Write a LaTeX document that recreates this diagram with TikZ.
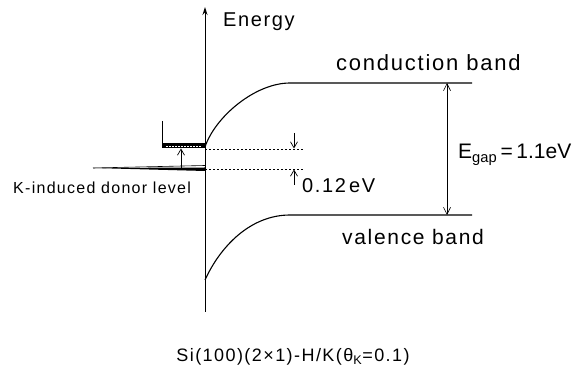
\documentclass[tikz,border=0pt]{standalone}
\usepackage{fontspec}
\setmainfont{Liberation Sans}[LetterSpace=8]
\usetikzlibrary{arrows.meta, positioning}

\begin{document}
\begin{tikzpicture}[
    x=1pt, y=1pt,
    band/.style={line width=1.1pt},
    dim/.style={line width=0.6pt, {Straight Barb[length=7pt, width=7pt]}-{Straight Barb[length=7pt, width=7pt]}},
    tick/.style={line width=0.7pt, -{Straight Barb[length=6pt, width=7pt]}},
    level/.style={line width=0.6pt, dash pattern=on 2pt off 2pt},
    lbl/.style={inner sep=0pt, anchor=base west, font=\fontsize{20}{24}\selectfont}
]
\useasboundingbox (0,0) rectangle (582,372);

% Energy axis
\coordinate (ax0) at (205,60);
\coordinate (ax1) at (205,365);
\draw[line width=0.9pt, -{Stealth[length=8pt, width=5pt]}] (ax0) -- (ax1);
\node[lbl] (energy) at (223,345) {Energy};

% Conduction and valence bands
\coordinate (cbS) at (205,225);
\coordinate (cbK) at (290,289);
\coordinate (cbE) at (472,289);
\coordinate (vbS) at (205,92);
\coordinate (vbK) at (290,157);
\coordinate (vbE) at (472,157);
\draw[band] (cbS) .. controls (215,255) and (255,289) .. (cbK) -- (cbE);
\draw[band] (vbS) .. controls (220,125) and (250,157) .. (vbK) -- (vbE);
\node[lbl, font=\fontsize{22}{26}\selectfont] (cblabel) at (336,301) {conduction band};
\node[lbl, font=\fontsize{21}{25}\selectfont] (vblabel) at (342,127) {valence band};

% Band gap
\coordinate (gapT) at (447,289);
\coordinate (gapB) at (447,157);
\draw[dim] (gapT) -- (gapB);
\node[lbl, font=\fontsize{21}{25}\selectfont\addfontfeature{LetterSpace=0}] (egap) at (458,213) {E\textsubscript{gap}\,=\,1.1eV};

% Surface Fermi level and donor level
\coordinate (sfA) at (205,223);
\coordinate (sfB) at (303,223);
\coordinate (dlA) at (205,203);
\coordinate (dlB) at (303,203);
\draw[level] (sfA) -- (sfB);
\draw[level] (dlA) -- (dlB);
\coordinate (dn0) at (294,239);
\coordinate (dn1) at (294,223.5);
\coordinate (up0) at (294,187);
\coordinate (up1) at (294,202.5);
\draw[tick] (dn0) -- (dn1);
\draw[tick] (up0) -- (up1);
\node[lbl] (shift) at (302,179) {0.12\,eV};

% K-induced donor level
\coordinate (wall) at (162,251);
\draw[line width=0.9pt] (wall) -- (162,226);
\fill (162,223.5) rectangle (205,228.5);
\draw[white, line width=0.8pt, dash pattern=on 1.5pt off 1.5pt] (166,226) -- (202,226);
\coordinate (kA) at (181,203);
\coordinate (kB) at (181,223.5);
\draw[tick] (kA) -- (kB);
\coordinate (tip) at (93,204);
\fill (tip) -- (205,204.5) -- (205,201) -- cycle;
\draw[line width=0.6pt] (tip) -- (205,206.5);
\node[lbl, font=\fontsize{16}{19}\selectfont] (donor) at (13,178) {K-induced donor level};

% Sample
\node[lbl, anchor=base, font=\fontsize{18}{21}\selectfont] (sample) at (293,10) {Si(100)(2×1)-H/K(θ\textsubscript{K}=0.1)};
\end{tikzpicture}
\end{document}
